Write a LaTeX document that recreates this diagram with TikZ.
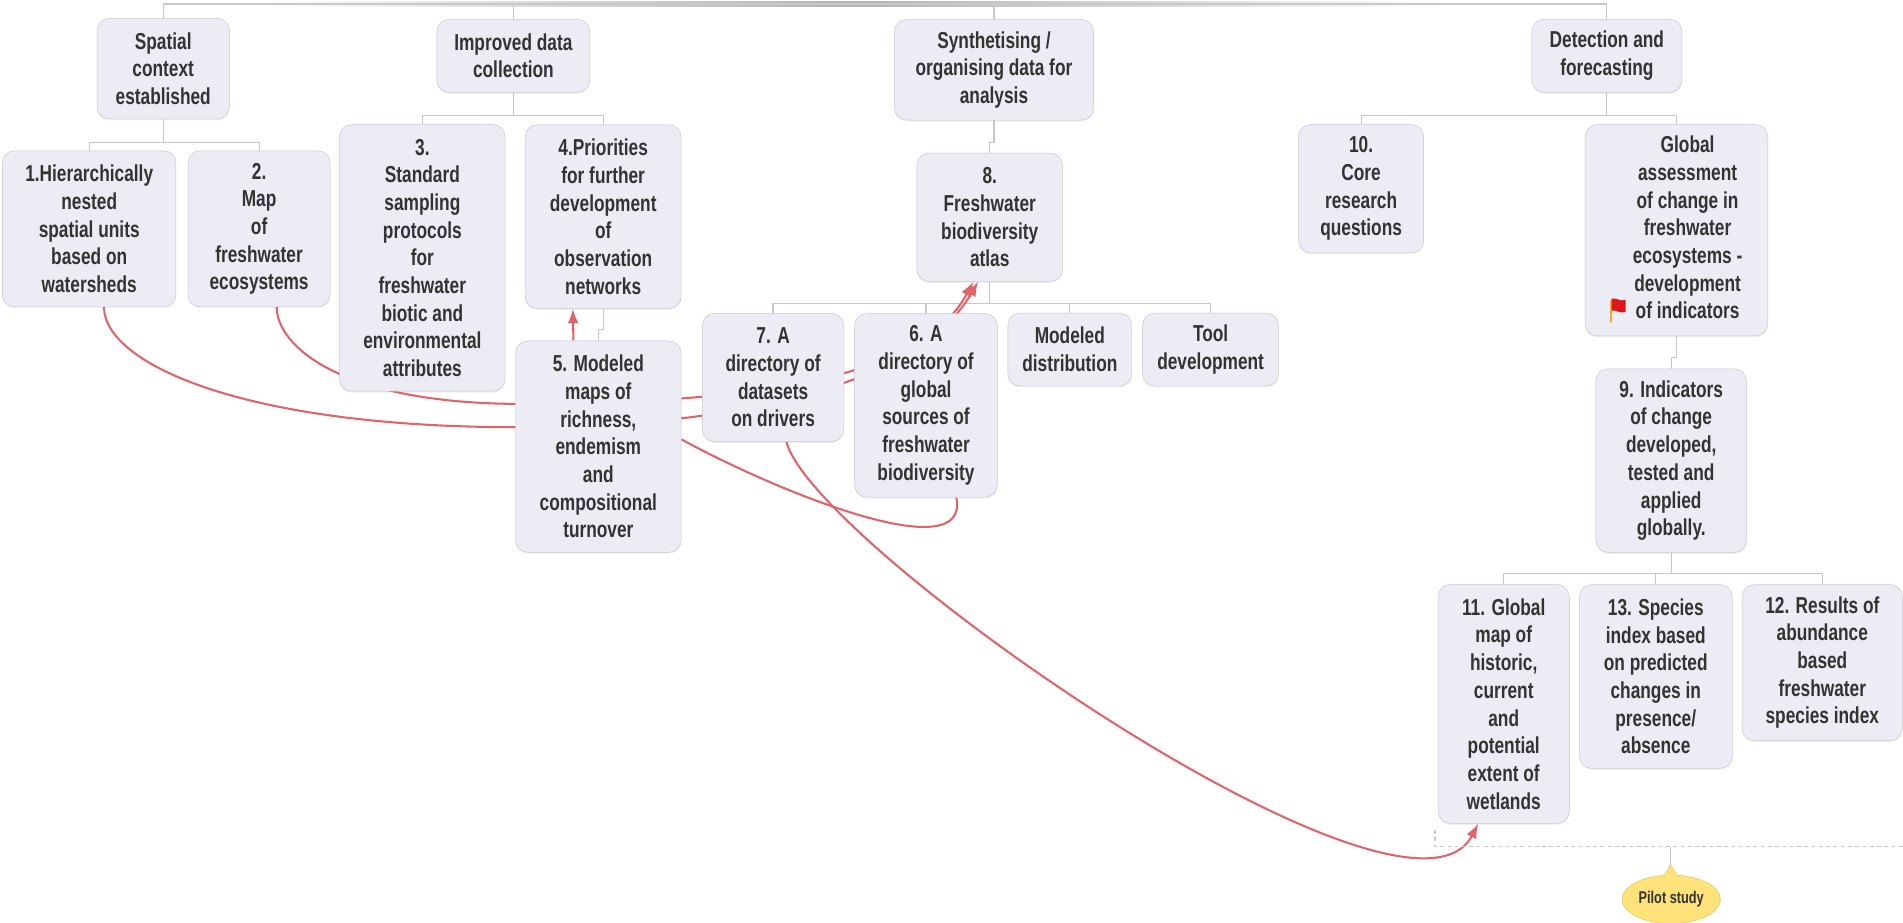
\documentclass[tikz,border=0pt]{standalone}
\usepackage{fontspec}
\setmainfont{Liberation Sans}[FakeStretch=0.75]
\usetikzlibrary{shapes,arrows,arrows.meta,calc,positioning,shadows,backgrounds}

\definecolor{boxfill}{RGB}{236,236,244}
\definecolor{boxedge}{RGB}{200,200,208}
\definecolor{branchgray}{RGB}{200,200,200}
\definecolor{linkred}{RGB}{226,98,106}
\definecolor{textgray}{RGB}{51,51,51}
\definecolor{pilotfill}{RGB}{255,226,122}
\definecolor{pilotedge}{RGB}{228,196,84}
\definecolor{flagred}{RGB}{222,24,24}
\definecolor{flagpole}{RGB}{240,170,40}

\tikzset{
mapbox/.style={draw=boxedge,fill=boxfill,rounded corners=10pt,align=center,inner sep=0pt,text=textgray,font=\fontsize{19}{22.8}\selectfont\bfseries,drop shadow={shadow xshift=0pt,shadow yshift=-1.2pt,opacity=0.12}},
nl/.style={minimum height={22.8pt*#1+14.5pt}},
branch/.style={draw=branchgray,line width=1pt},
link/.style={draw=linkred,line width=1.7pt},
redtip/.style={-{Latex[length=12pt,width=9pt]}},
}

\begin{document}
\begin{tikzpicture}[x=1pt,y=-1pt]

\useasboundingbox (0,0) rectangle (1568,760);

\node[mapbox,nl=3,minimum width=109pt](spatial) at (134.5,56.5) {Spatial\\context\\established};
\node[mapbox,nl=2,minimum width=126pt](improved) at (423,46) {Improved data\\collection};
\node[mapbox,nl=3,minimum width=164pt](synth) at (819,57.5) {Synthetising /\\organising data for\\analysis};
\node[mapbox,nl=2,minimum width=123.5pt](detect) at (1324,46) {Detection and\\forecasting};

\node[mapbox,nl=5,minimum width=143pt](n1) at (73.5,188.5) {1.Hierarchically\\nested\\spatial units\\based on\\watersheds};
\node[mapbox,nl=5,minimum width=117pt](n2) at (213.5,188.5) {2.\\Map\\of\\freshwater\\ecosystems};
\node[mapbox,nl=9,minimum width=136.5pt](n3) at (348,212.5) {3.\\Standard\\sampling\\protocols\\for\\freshwater\\biotic and\\environmental\\attributes};
\node[mapbox,nl=6,minimum width=128.5pt](n4) at (497,178.5) {4.Priorities\\for further\\development\\of\\observation\\networks};
\node[mapbox,nl=7,minimum width=136.5pt](n5) at (493,368) {5. Modeled\\maps of\\richness,\\endemism\\and\\compositional\\turnover};

\node[mapbox,nl=4,minimum width=120pt](n8) at (815.5,179) {8.\\Freshwater\\biodiversity\\atlas};
\node[mapbox,nl=4,minimum width=116.5pt](n7) at (637,311) {7. A\\directory of\\datasets\\on drivers};
\node[mapbox,nl=6,minimum width=117.5pt](n6) at (763,334) {6. A\\directory of\\global\\sources of\\freshwater\\biodiversity};
\node[mapbox,nl=2,minimum width=102pt](distr) at (881.5,288) {Modeled\\distribution};
\node[mapbox,nl=2,minimum width=112pt](tool) at (997.5,288) {Tool\\development};

\node[mapbox,nl=4,minimum width=103pt](n10) at (1121.5,155.5) {10.\\Core\\research\\questions};
\node[mapbox,nl=7,minimum width=150.5pt](glob) at (1381.3,189.7) {\hspace*{18.4pt}\begin{tabular}{@{}c@{}}Global\\assessment\\of change in\\freshwater\\ecosystems -\\development\\of indicators\end{tabular}};
\node[mapbox,nl=6,minimum width=124pt](n9) at (1377,379.5) {9. Indicators\\of change\\developed,\\tested and\\applied\\globally.};

\node[mapbox,nl=8,minimum width=108pt](n11) at (1239,580) {11. Global\\map of\\historic,\\current\\and\\potential\\extent of\\wetlands};
\node[mapbox,nl=6,minimum width=126pt](n13) at (1364.3,557.4) {13. Species\\index based\\on predicted\\changes in\\presence/\\absence};
\node[mapbox,nl=5,minimum width=132pt](n12) at (1501.5,546) {12. Results of\\abundance\\based\\freshwater\\species index};

\begin{scope}[shift={(glob.south west)}]
\draw[flagpole,line width=2.4pt,line cap=round] (21.5,-29) -- (21.5,-12);
\fill[flagred] (22,-31) .. controls (26,-32) and (29,-28) .. (33.5,-30) -- (33.5,-20) .. controls (29,-18) and (26,-22) .. (22,-21) -- cycle;
\end{scope}

\draw[branch,dashed] (1182.3,684) -- (1182.3,697.6) -- (1568,697.6);
\draw[branch] (1376.5,697.6) -- (1376.5,712.7) coordinate(pilotpin);
\node[ellipse callout,callout absolute pointer={(pilotpin)},draw=pilotedge,fill=pilotfill,minimum width=81pt,minimum height=40pt,inner sep=0pt,text=textgray,font=\fontsize{14}{16}\selectfont\bfseries](pilot) at (1377,741) {Pilot study};

\begin{scope}[on background layer]
\shade[left color=white,right color=white,middle color=black!30] (210,1.3) rectangle (1190,5.3);
\coordinate (bar) at (0,3.3);
\draw[branch] (spatial.north) -- (spatial.north|-bar) -- (detect.north|-bar) -- (detect.north);
\foreach \nn in {improved,synth}{
\draw[branch] (\nn.north) -- (\nn.north|-bar);
}

\draw[branch] (n1.north) -- ++(0,-6.5) coordinate(j1) -| (n2.north);
\draw[branch] (spatial.south) -- (spatial.south|-j1);
\draw[branch] (n3.north) -- ++(0,-7) coordinate(j2) -| (n4.north);
\draw[branch] (improved.south) -- (improved.south|-j2);
\draw[branch] (n4.south) -- ++(0,17) -| (n5.north);

\draw[branch] (synth.south) -- ++(0,18.5) -| (n8.north);
\draw[branch] (n7.north) -- ++(0,-7.6) coordinate(j3) -| (tool.north);
\foreach \nn in {n6.north,distr.north,n8.south}{
\draw[branch] (\nn) -- (\nn|-j3);
}

\draw[branch] (n10.north) -- ++(0,-7.2) coordinate(j4) -| (glob.north);
\draw[branch] (detect.south) -- (detect.south|-j4);
\draw[branch] (glob.south) -- ++(0,17.6) -| (n9.north);
\draw[branch] (n11.north) -- ++(0,-8.8) coordinate(j5) -| (n12.north);
\foreach \nn in {n13.north,n9.south}{
\draw[branch] (\nn) -- (\nn|-j5);
}

\draw[link,redtip] ([xshift=12.2pt]n1.south) .. controls +(0,46.5) and (200,352) .. (426,352) .. controls (620,352) and (759,313) .. ([xshift=-9.5pt]n8.south);
\draw[link,redtip] ([xshift=14.5pt]n2.south) .. controls +(0,32) and (280,332) .. (426,332.8) .. controls (600,332) and (756,318) .. ([xshift=-13.5pt]n8.south);
\draw[link] ([yshift=6pt]n5.east) .. controls (640,405) and (800,470) .. ([xshift=25pt]n6.south);
\draw[link,redtip] ([xshift=11pt]n7.south) .. controls (670,450) and (1160,790) .. ([xshift=-21pt]n11.south);
\draw[link,redtip] ([xshift=-20.5pt]n5.north) -- ([xshift=-25pt]n4.south);
\end{scope}

\end{tikzpicture}
\end{document}
